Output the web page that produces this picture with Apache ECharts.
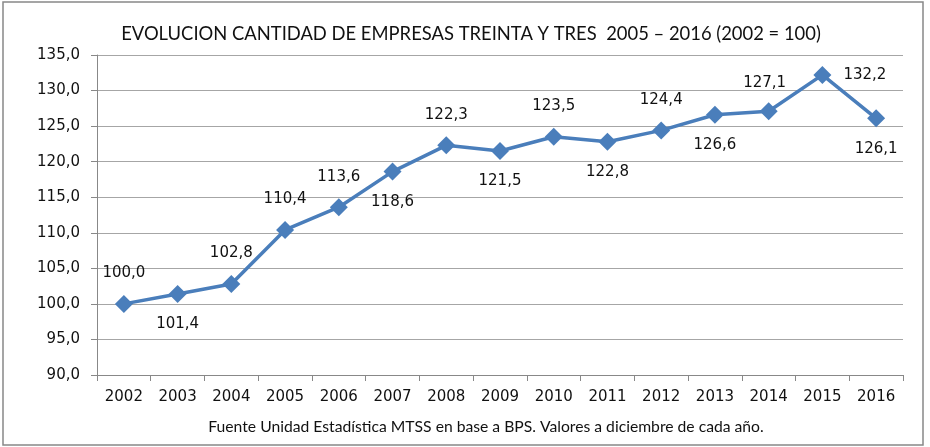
<!DOCTYPE html>
<html><head><meta charset="utf-8">
<script src="https://cdn.jsdelivr.net/npm/echarts@6/dist/echarts.min.js"></script>
<style>html,body{margin:0;padding:0;background:#fff}#c{width:930px;height:447px}</style>
</head><body><div id="c"></div>
<script>
var categories = ['2002','2003','2004','2005','2006','2007','2008','2009','2010','2011','2012','2013','2014','2015','2016'];
var values = [100.0,101.4,102.8,110.4,113.6,118.6,122.3,121.5,123.5,122.8,124.4,126.6,127.1,132.2,126.1];
var labelPos = ['top','bottom','top','top','top','bottom','top','bottom','top','bottom','top','bottom','top','right','bottom'];
var titleText = 'EVOLUCION CANTIDAD DE EMPRESAS TREINTA Y TRES  2005 – 2016 (2002 = 100)';
var footerText = 'Fuente Unidad Estadística MTSS en base a BPS. Valores a diciembre de cada año.';

var font = 'DejaVu Sans';
var font2 = 'Lato';
var data = values.map(function(v,i){
  var lbl = {position: labelPos[i], distance: 14};
  if (i === 12) { lbl.offset = [-4, 0]; lbl.distance = 12; }
  if (i === 13) { lbl.distance = 12; }
  return {value: v, label: lbl};
});
var chart = echarts.init(document.getElementById('c'));
chart.setOption({
  animation: false,
  graphic: [{type:'rect', shape:{x:3,y:2,width:920,height:443}, style:{fill:'none', stroke:'#888', lineWidth:1.5}, silent:true}],
  title: [
    {text: titleText, left: 466, top: 20, textAlign: 'center', textStyle:{fontFamily:font2, fontSize:18.4, fontWeight:'normal', color:'#111'}},
    {text: footerText, left: 481, top: 414, textAlign: 'center', textStyle:{fontFamily:font2, fontSize:15.7, fontWeight:'normal', color:'#111'}}
  ],
  grid: {left: 97, right: 27, top: 55, bottom: 72, containLabel: false},
  xAxis: {
    type: 'category', data: categories, boundaryGap: true,
    axisLine: {lineStyle:{color:'#888'}},
    axisTick: {show:true, length:6, lineStyle:{color:'#888'}},
    axisLabel: {fontFamily:font, fontSize:15, color:'#111', margin:15}
  },
  yAxis: {
    type: 'value', min: 90, max: 135, interval: 5,
    axisLine: {show:true, lineStyle:{color:'#888'}},
    axisTick: {show:true, length:6, lineStyle:{color:'#888'}},
    splitLine: {lineStyle:{color:'#a6a6a6'}},
    axisLabel: {fontFamily:font, fontSize:15, color:'#111', margin:17,
      formatter: function(v){ return v.toFixed(1).replace('.', ','); }}
  },
  series: [{
    type: 'line', data: data,
    symbol: 'diamond', symbolSize: 18,
    lineStyle: {color:'#4a7ebb', width:3.5},
    itemStyle: {color:'#4a7ebb'},
    label: {show:true, fontFamily:font, fontSize:15, color:'#111',
      formatter: function(p){ return p.value.toFixed(1).replace('.', ','); }}
  }]
});
</script></body></html>
